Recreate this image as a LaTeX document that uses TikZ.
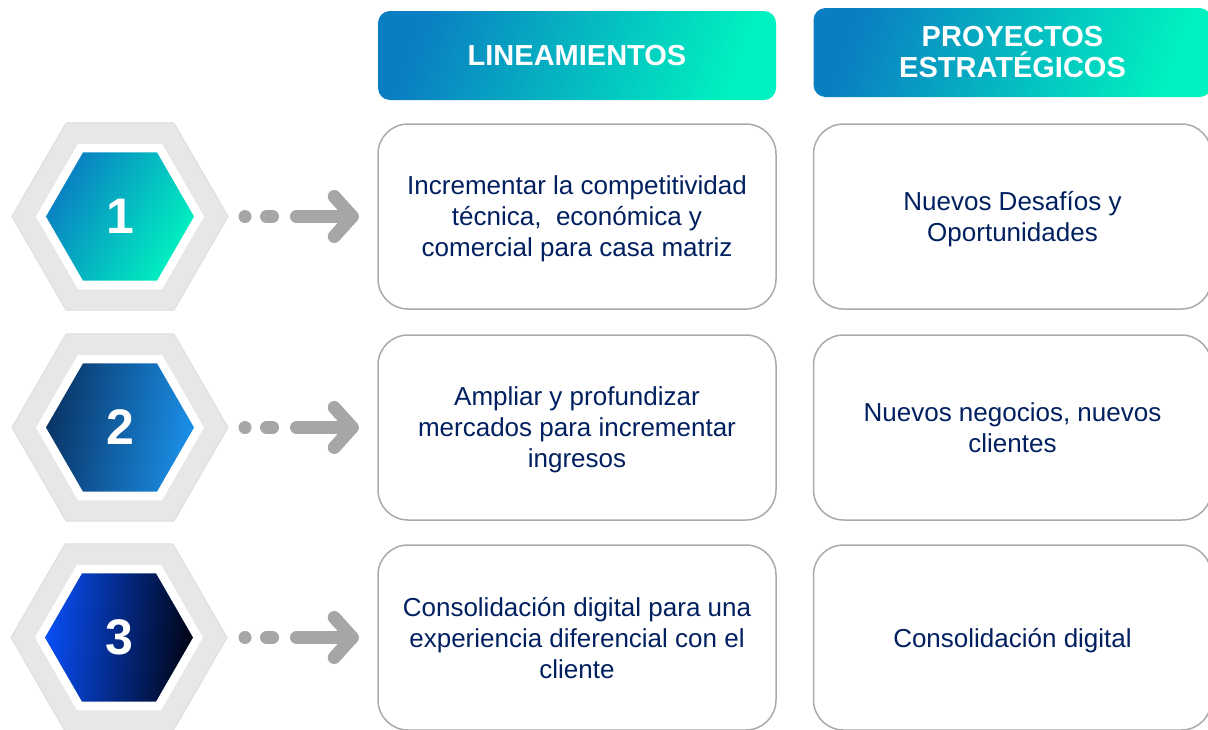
\documentclass[tikz,border=0pt]{standalone}
\usepackage{fontspec}
\setmainfont{Liberation Sans}
\usetikzlibrary{shapes.geometric}

\definecolor{navytext}{RGB}{0,32,96}
\definecolor{arrowgray}{RGB}{166,166,166}
\definecolor{boxline}{RGB}{170,170,170}
\definecolor{hexgray}{RGB}{231,231,231}
\definecolor{tealA}{RGB}{10,126,194}
\definecolor{tealB}{RGB}{0,242,192}
\definecolor{blueA}{RGB}{9,52,102}
\definecolor{blueB}{RGB}{26,144,232}
\definecolor{deepA}{RGB}{8,78,245}
\definecolor{deepB}{RGB}{0,4,20}

\tikzset{
  every picture/.style={line width=0.75pt},
  hexout/.style={regular polygon, regular polygon sides=6, minimum size=216pt, inner sep=0pt, outer sep=0pt, fill=hexgray, draw=black!13, line width=1pt},
  hexwhite/.style={regular polygon, regular polygon sides=6, minimum size=168pt, inner sep=0pt, outer sep=0pt, fill=white},
  hexin/.style={regular polygon, regular polygon sides=6, minimum size=148pt, inner sep=0pt, outer sep=0pt, text=white, font=\fontsize{50}{50}\selectfont\bfseries},
  headbox/.style={rounded corners=12pt, minimum width=398pt, minimum height=89pt, inner sep=0pt, align=center, text=white, font=\fontsize{29}{31}\selectfont\bfseries, left color=tealA, right color=tealB, shading angle=70},
  textbox/.style={draw=boxline, line width=1.5pt, fill=white, rounded corners=30pt, minimum width=398pt, minimum height=185pt, inner sep=0pt, align=center, text depth=0pt, text=navytext, font=\fontsize{26}{31}\selectfont},
  dotline/.style={draw=arrowgray, line width=13pt, line cap=round, dash pattern=on 0pt off 21.5pt on 6pt off 24pt on 90pt},
  chevron/.style={draw=arrowgray, line width=13pt, line cap=round, line join=round}
}

\begin{document}
\begin{tikzpicture}[x=1pt,y=1pt,yscale=-1,xscale=1]
\useasboundingbox (0,0) rectangle (1208,729);

%Shape: Header boxes
\node [headbox] (hdlin) at (577,55.5) {LINEAMIENTOS};
\node [headbox] (hdproy) at (1012.5,52.5) {PROYECTOS\\ESTRATÉGICOS};

%Shape: Hexagon 1
\node [hexout] (hex1) at (120,216.5) {};
\node [hexwhite] (hexw1) at (hex1.center) {};
\node [hexin, left color=tealA, right color=tealB, shading angle=60] (num1) at (hex1.center) {1};
%Shape: Hexagon 2
\node [hexout] (hex2) at (120,427.5) {};
\node [hexwhite] (hexw2) at (hex2.center) {};
\node [hexin, left color=blueA, right color=blueB, shading angle=80] (num2) at (hex2.center) {2};
%Shape: Hexagon 3
\node [hexout] (hex3) at (119,637.5) {};
\node [hexwhite] (hexw3) at (hex3.center) {};
\node [hexin, left color=deepA, right color=deepB, shading angle=85] (num3) at (hex3.center) {3};

% Text Node
\node [textbox] (lin1) at (577,216.5) {Incrementar la competitividad\\técnica,\ \ económica y\\comercial para casa matriz};
% Text Node
\node [textbox] (lin2) at (577,427.5) {Ampliar y profundizar\\mercados para incrementar\\ingresos};
% Text Node
\node [textbox] (lin3) at (577,637.5) {Consolidación digital para una\\experiencia diferencial con el\\cliente};
% Text Node
\node [textbox] (proy1) at (1012.5,216.5) {Nuevos Desafíos y\\Oportunidades};
% Text Node
\node [textbox] (proy2) at (1012.5,427.5) {Nuevos negocios, nuevos\\clientes};
% Text Node
\node [textbox] (proy3) at (1012.5,637.5) {Consolidación digital};

%Straight Lines: arrows
\coordinate (tip1) at ([xshift=-25pt]lin1.west);
\coordinate (tip2) at ([xshift=-25pt]lin2.west);
\coordinate (tip3) at ([xshift=-25pt]lin3.west);
\draw [dotline] ([xshift=17pt]hex1.east) -- (tip1);
\draw [chevron] (tip1) ++(-18,-20) -- (tip1) -- ++(-18,20);
\draw [dotline] ([xshift=17pt]hex2.east) -- (tip2);
\draw [chevron] (tip2) ++(-18,-20) -- (tip2) -- ++(-18,20);
\draw [dotline] ([xshift=18pt]hex3.east) -- (tip3);
\draw [chevron] (tip3) ++(-18,-20) -- (tip3) -- ++(-18,20);

\end{tikzpicture}
\end{document}
